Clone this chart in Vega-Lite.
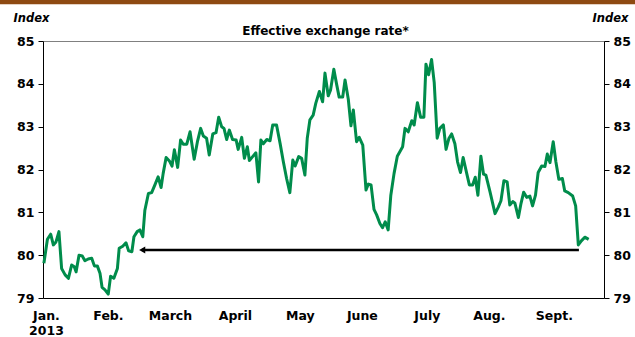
{
  "$schema": "https://vega.github.io/schema/vega-lite/v6.json",
  "autosize": "none",
  "width": 561,
  "height": 257,
  "padding": {"left": 43, "top": 41, "right": 31, "bottom": 39},
  "background": "white",
  "config": {"font": "DejaVu Sans", "view": {"stroke": null}},
  "datasets": {
    "series": [
      {"day": 0.3, "value": 79.81}, {"day": 1.5, "value": 80.37}, {"day": 2.6, "value": 80.49}, {"day": 3.5, "value": 80.24},
      {"day": 4.4, "value": 80.31}, {"day": 5.4, "value": 80.55}, {"day": 6.3, "value": 79.69}, {"day": 7.5, "value": 79.54},
      {"day": 8.6, "value": 79.46}, {"day": 9.7, "value": 79.77}, {"day": 10.6, "value": 79.73}, {"day": 11.2, "value": 79.61},
      {"day": 12.2, "value": 80.0}, {"day": 13.3, "value": 79.98}, {"day": 14.2, "value": 79.87}, {"day": 15.3, "value": 79.91},
      {"day": 16.5, "value": 79.93}, {"day": 17.4, "value": 79.75}, {"day": 18.4, "value": 79.75}, {"day": 19.3, "value": 79.58},
      {"day": 20.0, "value": 79.25}, {"day": 21.0, "value": 79.19}, {"day": 22.1, "value": 79.09}, {"day": 22.9, "value": 79.51},
      {"day": 24.0, "value": 79.46}, {"day": 25.2, "value": 79.69}, {"day": 25.8, "value": 80.16}, {"day": 27.0, "value": 80.21},
      {"day": 28.1, "value": 80.29}, {"day": 29.0, "value": 80.1}, {"day": 30.1, "value": 80.08}, {"day": 30.8, "value": 80.43},
      {"day": 31.9, "value": 80.55}, {"day": 32.8, "value": 80.59}, {"day": 33.8, "value": 80.43}, {"day": 34.5, "value": 81.05},
      {"day": 35.7, "value": 81.44}, {"day": 36.8, "value": 81.46}, {"day": 37.9, "value": 81.64}, {"day": 39.0, "value": 81.83},
      {"day": 40.0, "value": 81.58}, {"day": 40.7, "value": 81.91}, {"day": 41.7, "value": 82.28}, {"day": 42.8, "value": 82.2},
      {"day": 43.7, "value": 82.08}, {"day": 44.5, "value": 82.46}, {"day": 45.6, "value": 82.05}, {"day": 46.6, "value": 82.69},
      {"day": 47.5, "value": 82.59}, {"day": 48.7, "value": 82.59}, {"day": 49.8, "value": 82.88}, {"day": 51.2, "value": 82.24},
      {"day": 52.3, "value": 82.65}, {"day": 53.4, "value": 82.96}, {"day": 54.3, "value": 82.78}, {"day": 55.4, "value": 82.73},
      {"day": 56.3, "value": 82.34}, {"day": 57.5, "value": 82.83}, {"day": 58.6, "value": 82.86}, {"day": 59.5, "value": 83.22},
      {"day": 60.5, "value": 83.0}, {"day": 61.3, "value": 82.96}, {"day": 62.2, "value": 82.7}, {"day": 63.1, "value": 82.92},
      {"day": 64.2, "value": 82.7}, {"day": 65.4, "value": 82.69}, {"day": 66.1, "value": 82.47}, {"day": 67.3, "value": 82.75},
      {"day": 68.2, "value": 82.26}, {"day": 69.2, "value": 82.53}, {"day": 69.9, "value": 82.21}, {"day": 71.0, "value": 82.3},
      {"day": 72.1, "value": 82.39}, {"day": 73.0, "value": 81.71}, {"day": 73.8, "value": 82.69}, {"day": 74.6, "value": 82.6},
      {"day": 75.8, "value": 82.7}, {"day": 76.9, "value": 82.67}, {"day": 77.8, "value": 83.04}, {"day": 79.1, "value": 83.04},
      {"day": 80.3, "value": 82.61}, {"day": 81.4, "value": 82.18}, {"day": 82.5, "value": 81.79}, {"day": 83.6, "value": 81.46},
      {"day": 84.6, "value": 82.22}, {"day": 85.4, "value": 82.08}, {"day": 86.6, "value": 82.3}, {"day": 87.6, "value": 82.26},
      {"day": 88.7, "value": 81.87}, {"day": 89.5, "value": 82.73}, {"day": 90.4, "value": 83.16}, {"day": 91.5, "value": 83.27},
      {"day": 92.4, "value": 83.55}, {"day": 93.6, "value": 83.82}, {"day": 94.7, "value": 83.58}, {"day": 95.5, "value": 84.25},
      {"day": 96.6, "value": 83.72}, {"day": 97.4, "value": 83.86}, {"day": 98.5, "value": 84.34}, {"day": 99.5, "value": 83.97},
      {"day": 100.3, "value": 83.69}, {"day": 101.5, "value": 83.69}, {"day": 102.3, "value": 84.09}, {"day": 103.4, "value": 83.64},
      {"day": 104.3, "value": 83.02}, {"day": 105.1, "value": 83.39}, {"day": 106.2, "value": 82.65}, {"day": 107.1, "value": 82.75},
      {"day": 108.3, "value": 82.57}, {"day": 109.4, "value": 81.52}, {"day": 110.2, "value": 81.66}, {"day": 111.1, "value": 81.64},
      {"day": 112.1, "value": 81.07}, {"day": 113.0, "value": 80.94}, {"day": 114.1, "value": 80.74}, {"day": 115.0, "value": 80.64},
      {"day": 115.9, "value": 80.78}, {"day": 116.9, "value": 80.59}, {"day": 117.8, "value": 81.4}, {"day": 118.9, "value": 81.91},
      {"day": 120.0, "value": 82.31}, {"day": 120.9, "value": 82.42}, {"day": 121.8, "value": 82.53}, {"day": 122.6, "value": 82.96},
      {"day": 123.7, "value": 82.88}, {"day": 124.9, "value": 83.14}, {"day": 125.7, "value": 83.04}, {"day": 126.8, "value": 83.56},
      {"day": 127.9, "value": 83.22}, {"day": 129.0, "value": 83.22}, {"day": 129.7, "value": 84.46}, {"day": 130.6, "value": 84.21},
      {"day": 131.6, "value": 84.57}, {"day": 132.5, "value": 84.03}, {"day": 133.5, "value": 82.73}, {"day": 134.4, "value": 82.96},
      {"day": 135.6, "value": 83.04}, {"day": 136.5, "value": 82.47}, {"day": 137.5, "value": 82.73}, {"day": 138.4, "value": 82.83},
      {"day": 139.5, "value": 82.6}, {"day": 140.4, "value": 82.18}, {"day": 141.4, "value": 81.93}, {"day": 142.3, "value": 82.28},
      {"day": 143.5, "value": 81.91}, {"day": 144.4, "value": 81.64}, {"day": 145.5, "value": 81.64}, {"day": 146.4, "value": 81.82},
      {"day": 147.3, "value": 81.4}, {"day": 148.3, "value": 82.31}, {"day": 149.2, "value": 81.89}, {"day": 150.0, "value": 81.87},
      {"day": 151.4, "value": 81.48}, {"day": 153.1, "value": 80.97}, {"day": 154.2, "value": 81.12}, {"day": 155.1, "value": 81.27},
      {"day": 156.1, "value": 81.74}, {"day": 157.2, "value": 81.71}, {"day": 158.1, "value": 81.17}, {"day": 159.1, "value": 81.25},
      {"day": 159.8, "value": 81.22}, {"day": 161.0, "value": 80.88}, {"day": 161.9, "value": 81.21}, {"day": 162.8, "value": 81.47},
      {"day": 163.8, "value": 81.35}, {"day": 164.9, "value": 81.38}, {"day": 165.8, "value": 81.15}, {"day": 166.8, "value": 81.4},
      {"day": 167.7, "value": 81.93}, {"day": 168.9, "value": 82.08}, {"day": 170.0, "value": 82.07}, {"day": 170.8, "value": 82.36},
      {"day": 171.7, "value": 82.16}, {"day": 172.8, "value": 82.65}, {"day": 173.7, "value": 82.18}, {"day": 174.7, "value": 81.77},
      {"day": 175.9, "value": 81.79}, {"day": 176.7, "value": 81.5}, {"day": 177.9, "value": 81.46}, {"day": 179.4, "value": 81.38},
      {"day": 180.4, "value": 81.15}, {"day": 181.3, "value": 80.24}, {"day": 182.4, "value": 80.34}, {"day": 183.5, "value": 80.42},
      {"day": 184.8, "value": 80.37}
    ],
    "arrow": [{"start": 33.5, "end": 181.5, "level": 80.12}],
    "head": [{"day": 33.6, "level": 80.12}]
  },
  "resolve": {"axis": {"x": "independent", "y": "independent"}},
  "layer": [
    {
      "data": {"name": "series"},
      "mark": {"type": "line", "color": "#008C4B", "strokeWidth": 3, "strokeJoin": "round"},
      "encoding": {
        "x": {
          "field": "day", "type": "quantitative",
          "scale": {"domain": [0, 190], "nice": false, "zero": false},
          "axis": {
            "orient": "bottom", "values": [1, 22, 43, 65, 87, 108, 130, 151, 173],
            "labelExpr": "datum.value == 1 ? ['Jan.', '2013'] : datum.value == 22 ? 'Feb.' : datum.value == 43 ? 'March' : datum.value == 65 ? 'April' : datum.value == 87 ? 'May' : datum.value == 108 ? 'June' : datum.value == 130 ? 'July' : datum.value == 151 ? 'Aug.' : 'Sept.'",
            "ticks": false, "grid": false, "domainColor": "#000000", "domainWidth": 1,
            "labelFont": "DejaVu Sans", "labelFontWeight": "bold", "labelFontSize": 12.5, "labelColor": "#000000",
            "labelPadding": 11, "labelLineHeight": 15, "labelFlush": false, "labelOverlap": false, "labelBound": false,
            "title": null
          }
        },
        "y": {
          "field": "value", "type": "quantitative",
          "scale": {"domain": [79, 85], "nice": false, "zero": false},
          "axis": {
            "orient": "left", "values": [79, 80, 81, 82, 83, 84, 85], "grid": false,
            "tickSize": 5, "tickColor": "#000000", "domainColor": "#000000",
            "labelFont": "DejaVu Sans", "labelFontWeight": "bold", "labelFontSize": 12.5, "labelColor": "#000000", "labelPadding": 4,
            "title": "Index", "titleAngle": 0, "titleX": -30, "titleY": -19.5, "titleAlign": "left", "titleBaseline": "alphabetic",
            "titleFont": "DejaVu Sans", "titleFontStyle": "italic", "titleFontWeight": "bold", "titleFontSize": 11.5, "titleColor": "#000000"
          }
        }
      }
    },
    {
      "data": {"name": "arrow"},
      "mark": {"type": "rule", "color": "#000000", "strokeWidth": 2.5},
      "encoding": {
        "x": {
          "field": "start", "type": "quantitative",
          "axis": {
            "orient": "top", "labels": false, "ticks": false, "grid": false, "domainColor": "#808080",
            "title": "Effective exchange rate*", "titleX": 282, "titleY": -7, "titleAlign": "center", "titleBaseline": "alphabetic",
            "titleFont": "DejaVu Sans", "titleFontWeight": "bold", "titleFontSize": 12, "titleColor": "#000000"
          }
        },
        "x2": {"field": "end"},
        "y": {
          "field": "level", "type": "quantitative",
          "axis": {
            "orient": "right", "values": [79, 80, 81, 82, 83, 84, 85], "grid": false,
            "tickSize": 5, "tickColor": "#000000", "domainColor": "#000000",
            "labelFont": "DejaVu Sans", "labelFontWeight": "bold", "labelFontSize": 12.5, "labelColor": "#000000", "labelPadding": 4,
            "title": "Index", "titleAngle": 0, "titleX": 24, "titleY": -19.5, "titleAlign": "right", "titleBaseline": "alphabetic",
            "titleFont": "DejaVu Sans", "titleFontStyle": "italic", "titleFontWeight": "bold", "titleFontSize": 11.5, "titleColor": "#000000"
          }
        }
      }
    },
    {
      "data": {"name": "head"},
      "mark": {"type": "point", "shape": "triangle-left", "filled": true, "color": "#000000", "size": 50, "opacity": 1},
      "encoding": {
        "x": {"field": "day", "type": "quantitative", "axis": null},
        "y": {"field": "level", "type": "quantitative", "axis": null}
      }
    },
    {
      "data": {"values": [{}]},
      "mark": {"type": "rule", "color": "#8E4A12", "strokeWidth": 4.5},
      "encoding": {
        "x": {"datum": -14.6, "type": "quantitative", "axis": null},
        "x2": {"datum": 200.5},
        "y": {"datum": 85.91, "type": "quantitative", "axis": null}
      }
    }
  ]
}
